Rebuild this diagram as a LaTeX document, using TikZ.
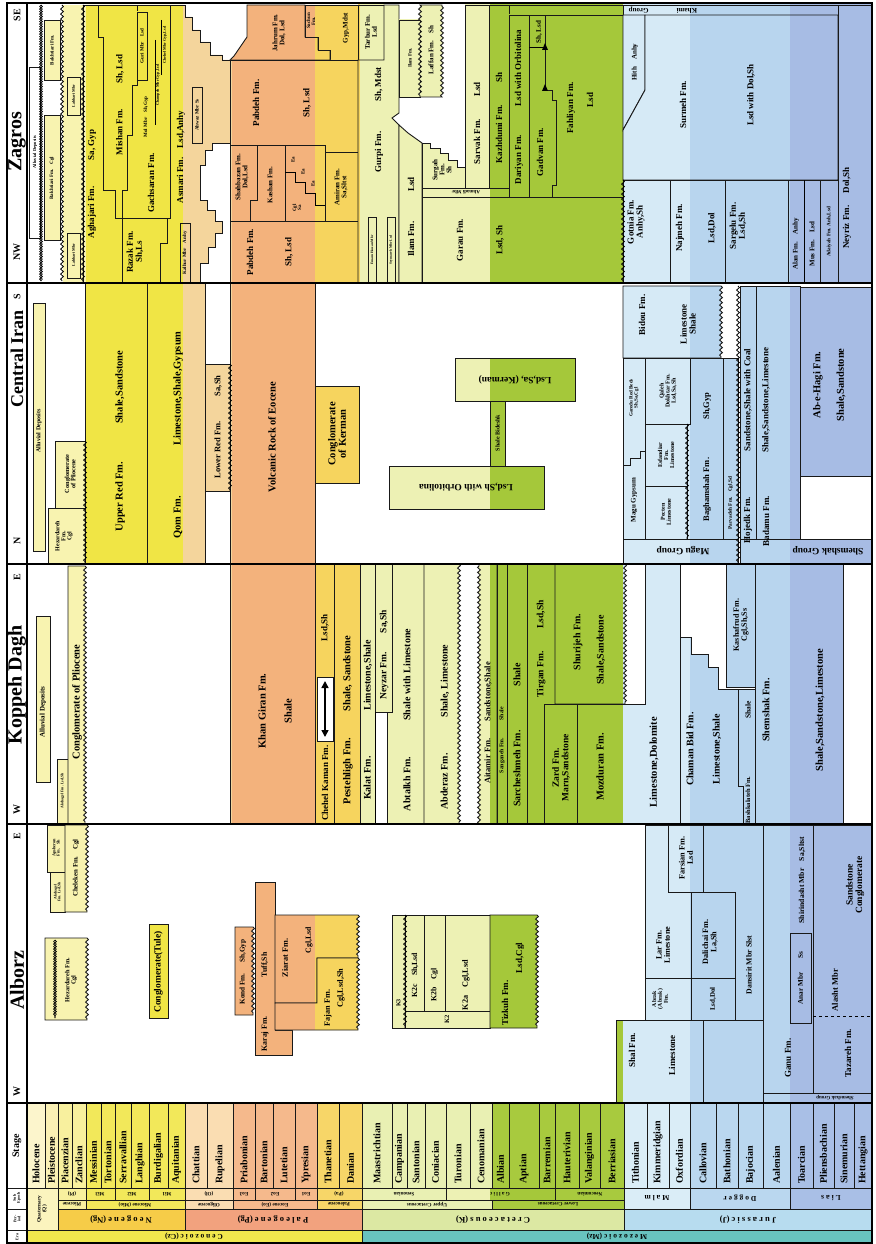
\documentclass[tikz,border=0pt]{standalone}
\usepackage{fontspec}
\setmainfont{Liberation Serif}
\usetikzlibrary{decorations.pathmorphing,arrows.meta}
\definecolor{bQ}{HTML}{F8F3B0}
\definecolor{bMio}{HTML}{F0E545}
\definecolor{bOl}{HTML}{F4D59C}
\definecolor{bEo}{HTML}{F3B27C}
\definecolor{bPa}{HTML}{F6D45E}
\definecolor{bUK}{HTML}{EDF1B4}
\definecolor{bLK}{HTML}{A5C83A}
\definecolor{bMalm}{HTML}{D6EAF6}
\definecolor{bDog}{HTML}{B8D5EE}
\definecolor{bLias}{HTML}{A7BCE4}
\definecolor{sHol}{HTML}{FCF5CC}
\definecolor{sPle}{HTML}{FAF0B4}
\definecolor{sPli}{HTML}{F8F09E}
\definecolor{sMio}{HTML}{F2E85A}
\definecolor{sOli}{HTML}{FADDB2}
\definecolor{sEoc}{HTML}{F5B98C}
\definecolor{sPal}{HTML}{F7D668}
\definecolor{sUK}{HTML}{E9F0B3}
\definecolor{sLK}{HTML}{A8CA3E}
\definecolor{sMalm}{HTML}{DAEDF7}
\definecolor{sDog}{HTML}{BAD7EF}
\definecolor{sLias}{HTML}{A9BFE6}
\definecolor{pQ}{HTML}{FBF4BE}
\definecolor{pNg}{HTML}{F6CC48}
\definecolor{pPg}{HTML}{F2A27E}
\definecolor{pK}{HTML}{DCE8A3}
\definecolor{pJ}{HTML}{B7DCEF}
\definecolor{eCz}{HTML}{F1E74D}
\definecolor{eMz}{HTML}{68C3BF}
\newcommand\fz[1]{\fontsize{#1}{#1}\selectfont\bfseries}
\newcommand\bands{%
 \fill[bQ] (0,0) rectangle (86,1244);
 \fill[bMio] (86,0) rectangle (183,1244);
 \fill[bOl] (183,0) rectangle (232,1244);
 \fill[bEo] (232,0) rectangle (315,1244);
 \fill[bPa] (315,0) rectangle (360,1244);
 \fill[bUK] (360,0) rectangle (490,1244);
 \fill[bLK] (490,0) rectangle (623,1244);
 \fill[bMalm] (623,0) rectangle (690,1244);
 \fill[bDog] (690,0) rectangle (790,1244);
 \fill[bLias] (790,0) rectangle (880,1244);}
\tikzset{
 fm/.style={draw=black!90, line width=0.9pt, path picture={\bands}},
 wbox/.style={draw=black!90, line width=0.9pt, fill=white},
 plbox/.style={draw=black!90, line width=0.9pt, fill=bQ},
 lab/.style={rotate=90, align=center, inner sep=0pt, font=\fz{10.5}},
 labz/.style={lab, font=\fz{9}},
 labs/.style={lab, font=\fz{7}},
 labt/.style={lab, font=\fz{5}},
 labr/.style={rotate=180, align=center, inner sep=0pt, font=\fz{9.5}},
 ep/.style={rotate=180, inner sep=0pt, font=\fz{5.2}},
 hdr/.style={rotate=90, inner sep=0pt, font=\fz{20}},
 dirl/.style={rotate=90, inner sep=0pt, font=\fz{10}},
 wavy/.style={draw, line width=0.8pt, decorate},
 chain/.style={draw, line width=0.6pt, decorate, decoration={snake,amplitude=1.4pt,segment length=5pt,mirror}},
 stg/.style={rotate=90, anchor=west, inner sep=0pt, font=\fz{10}},
 cell/.style={draw=black!90, line width=0.7pt},
}
\begin{document}
\begin{tikzpicture}[x=1pt,y=-1pt,decoration={snake,amplitude=1.4pt,segment length=5pt}]
\useasboundingbox (0,0) rectangle (875,1244);
\fill[white] (0,0) rectangle (875,1244);

% ================= ZAGROS =================
\fill[bQ] (63,5) rectangle (83,283);
\path[wbox] (29,67) rectangle (40,238);
\path[plbox] (44,20) rectangle (60,80);
\path[plbox] (44,115) rectangle (60,240);
\path[plbox] (67,77) rectangle (80,115);
\path[plbox] (67,233) rectangle (80,278);
\draw[wavy] (41,5) -- (41,281);
\draw[chain] (41,5) -- (41,281);
\draw[wavy] (62,5) -- (62,281);
\path[fm] (83,5) -- (98,5) -- (98,37) -- (103,37) -- (103,190) -- (115,190) -- (115,218) -- (122,218) -- (122,283) -- (83,283) -- cycle;
\path[fm] (98,5) -- (137,5) -- (137,85) -- (132,85) -- (132,135) -- (127,135) -- (127,190) -- (122,190) -- (122,218) -- (115,218) -- (115,190) -- (103,190) -- (103,37) -- (98,37) -- cycle;
\path[fm] (137,5) -- (170,5) -- (170,218) -- (122,218) -- (122,190) -- (127,190) -- (127,135) -- (132,135) -- (132,85) -- (137,85) -- cycle;
\path[fm] (137,12) rectangle (147,80);
\draw[line width=0.5pt] (155,40) -- (155,125);
\draw[line width=0.5pt] (161,20) -- (161,75);
\path[fm] (122,218) -- (167,218) -- (167,243) -- (160,243) -- (160,283) -- (122,283) -- cycle;
\path[fm] (170,5) -- (185,5) -- (185,17) -- (192,17) -- (192,30) -- (200,30) -- (200,42) -- (210,42) -- (210,55) -- (222,55) -- (222,60) -- (230,60) -- (230,143) -- (212,143) -- (212,150) -- (205,150) -- (205,165) -- (200,165) -- (200,200) -- (207,200) -- (207,210) -- (215,210) -- (215,221) -- (222,221) -- (222,233) -- (215,233) -- (215,247) -- (208,247) -- (208,263) -- (200,263) -- (200,283) -- (160,283) -- (160,243) -- (167,243) -- (167,218) -- (170,218) -- cycle;
\path[fm] (180,223) rectangle (190,283);
\path[fm] (192,87) rectangle (202,143);
\path[fm] (247,5) -- (305,5) -- (305,37) -- (318,37) -- (318,50) -- (330,50) -- (330,60) -- (230,60) -- (234,56) -- (247,37) -- cycle;
\path[fm] (305,5) -- (358,5) -- (358,60) -- (330,60) -- (330,50) -- (318,50) -- (318,37) -- (305,37) -- cycle;
\path[fm] (230,60) -- (358,60) -- (358,152) -- (325,152) -- (325,145) -- (230,145) -- cycle;
\path[fm] (230,145) -- (257,145) -- (257,200) -- (250,200) -- (250,221) -- (230,221) -- cycle;
\path[fm] (257,145) -- (285,145) -- (285,221) -- (250,221) -- (250,200) -- (257,200) -- cycle;
\path[fm] (285,145) -- (325,145) -- (325,221) -- (285,221) -- cycle;
\draw[line width=0.6pt] (285,172) -- (295,172) -- (295,182) -- (305,182) -- (305,193) -- (315,193) -- (315,205) -- (325,205);
\path[fm] (325,152) -- (358,152) -- (358,221) -- (325,221) -- cycle;
\path[fm] (230,221) rectangle (358,283);
\path[fm] (358,5) rectangle (384,60);
\path[fm] (358,60) -- (384,60) -- (384,5) -- (399,5) -- (399,113) -- (392,118) -- (399,125) -- (399,283) -- (358,283) -- cycle;
\path[fm] (368,217) rectangle (376,283);
\path[fm] (387,217) rectangle (395,283);
\path[fm] (399,20) rectangle (420,97);
\path[fm] (420,5) decorate{-- (420,97)} -- (442,97) decorate{-- (442,5)} -- cycle;
\path[fm] (399,125) -- (408,133) -- (415,138) -- (422,143) -- (422,283) -- (399,283) -- cycle;
\path[fm] (422,143) -- (430,143) -- (430,148) -- (440,148) -- (440,153) -- (448,153) -- (448,160) -- (457,160) -- (457,167) -- (465,167) -- (465,188) -- (422,188) -- cycle;
\path[fm] (422,188) rectangle (509,197);
\path[fm] (465,5) -- (489,5) -- (489,188) -- (465,188) -- cycle;
\path[fm] (489,5) rectangle (509,188);
\path[fm] (509,5) rectangle (623,15);
\path[fm] (509,15) rectangle (529,197);
\path[fm] (529,15) -- (545,15) -- (545,90) -- (552,90) -- (552,100) -- (556,100) -- (556,185) -- (552,185) -- (552,197) -- (529,197) -- cycle;
\path[fm] (545,15) -- (623,15) -- (623,197) -- (552,197) -- (552,185) -- (556,185) -- (556,100) -- (552,100) -- (552,90) -- (545,90) -- cycle;
\draw[line width=0.6pt] (529,47) -- (545,47);
\fill (545,43) -- (548,50) -- (542,50) -- cycle;
\fill (545,84) -- (548,91) -- (542,91) -- cycle;
\path[fm] (422,197) rectangle (623,283);
\path[fm] (623,5) rectangle (838,15);
\path[fm] (623,15) -- (645,15) -- (645,90) -- (623,130) -- cycle;
\path[fm] (645,15) -- (838,15) -- (838,180) -- (623,180) -- (623,130) -- (645,90) -- cycle;
\path[fm] (838,5) rectangle (872,283);
\path[fm] (623,180) rectangle (670,283);
\path[fm] (670,180) rectangle (725,283);
\path[fm] (725,180) rectangle (788,283);
\path[fm] (788,180) rectangle (820,283);
\draw[line width=0.8pt] (804,180) -- (804,283);
\path[fm] (820,180) rectangle (838,283);
\draw[wavy] (83,5) -- (83,283);
\draw[wavy] (623,180) -- (623,283);

% ================= CENTRAL IRAN =================
\path[plbox] (33,303) rectangle (45,551);
\path[plbox] (48,508) rectangle (85,564);
\path[plbox] (55,441) rectangle (85,508);
\path[fm] (85,283) rectangle (147,564);
\path[fm] (147,283) rectangle (205,564);
\path[fm] (205,364) rectangle (230,491);
\path[fm] (230,283) rectangle (315,564);
\path[fm] (315,386) rectangle (359,483);
\path[fm] (455,358) rectangle (575,401);
\path[fm] (490,401) rectangle (505,466);
\path[fm] (389,466) rectangle (544,509);
\path[fm] (623,286) -- (721,286) decorate{-- (721,358)} -- (623,358) -- cycle;
\path[fm] (623,358) -- (645,358) -- (645,451) -- (640,451) -- (640,458) -- (630,458) -- (630,465) -- (623,465) -- cycle;
\path[fm] (623,465) -- (630,465) -- (630,458) -- (640,458) -- (640,451) -- (645,451) -- (645,539) -- (623,539) -- cycle;
\path[fm] (645,358) rectangle (690,424);
\path[fm] (645,424) rectangle (687,486);
\path[fm] (645,486) rectangle (687,539);
\path[fm] (687,424) -- (690,424) -- (690,358) -- (723,358) -- (723,539) -- (687,539) -- cycle;
\path[fm] (723,358) rectangle (738,539);
\path[fm] (740,286) rectangle (756,539);
\path[fm] (756,286) rectangle (800,539);
\path[fm] (800,287) rectangle (871,476);
\path[fm] (623,539) rectangle (738,564);
\path[fm] (740,539) rectangle (872,564);
\draw[wavy] (85,441) -- (85,564);
\draw[wavy] (230,364) -- (230,491);
\draw[wavy] (687,424) -- (687,539);
\draw[wavy] (738,286) -- (738,564);

% ================= KOPPEH DAGH =================
\path[plbox] (36,616) rectangle (50,782);
\path[plbox] (57,759) rectangle (68,824);
\path[plbox] (68,566) -- (85,566) decorate{-- (85,824)} -- (68,824) -- cycle;
\path[fm] (230,564) rectangle (315,824);
\path[fm] (315,564) rectangle (334,824);
\path[wbox] (317,677) rectangle (333,741);
\path[fm] (334,564) rectangle (360,824);
\path[fm] (360,564) rectangle (375,824);
\path[fm] (375,564) rectangle (392,712);
\draw[line width=0.9pt] (375,712) -- (375,824);
\path[fm] (392,564) -- (424,564) -- (424,824) -- (387,824) -- (387,712) -- (392,712) -- cycle;
\path[fm] (424,564) -- (459,564) decorate{-- (459,824)} -- (424,824) -- cycle;
\path[fm] (479,824) decorate{-- (479,564)} -- (497,564) -- (497,824) -- cycle;
\path[fm] (497,564) rectangle (507,824);
\path[fm] (507,564) rectangle (527,824);
\path[fm] (527,564) -- (555,564) -- (555,704) -- (544,704) -- (544,824) -- (527,824) -- cycle;
\path[fm] (555,564) -- (625,564) decorate{-- (625,704)} -- (555,704) -- cycle;
\path[fm] (544,704) rectangle (577,824);
\path[fm] (577,704) -- (645,704) -- (645,564) -- (680,564) -- (680,824) -- (577,824) -- cycle;
\path[fm] (680,637) -- (691,637) -- (691,654) -- (708,654) -- (708,667) -- (718,667) -- (718,689) -- (738,689) -- (738,786) -- (743,786) -- (743,824) -- (680,824) -- cycle;
\path[fm] (726,564) rectangle (755,687);
\path[fm] (738,689) -- (755,689) -- (755,824) -- (743,824) -- (743,786) -- (738,786) -- cycle;
\path[fm] (755,564) rectangle (843,824);
\coordinate (ckA) at (325,681);
\coordinate (ckB) at (325,737);
\draw[{Triangle[length=7pt,width=7pt]}-{Triangle[length=7pt,width=7pt]}, line width=1.5pt] (ckA) -- (ckB);

% ================= ALBORZ =================
\path[plbox] (47,825) rectangle (65,872);
\path[plbox] (50,872) rectangle (65,912);
\path[plbox] (65,825) -- (87,825) decorate{-- (87,912)} -- (65,912) -- cycle;
\path[plbox] (45,938) -- (87,938) decorate{-- (87,1020)} -- (45,1020) -- cycle;
\draw[chain] (55,940) -- (55,1018);
\draw[wavy] (55,940) -- (55,1018);
\path[fm] (149,924) rectangle (168,1018);
\path[fm] (255,882) -- (275,882) -- (275,1030) -- (292,1030) -- (292,1055) -- (255,1055) -- cycle;
\path[fm] (235,927) -- (253,927) decorate{-- (253,1015)} -- (235,1015) -- cycle;
\path[fm] (275,915) -- (358,915) decorate{-- (358,958)} -- (317,958) -- (317,1003) -- (275,1003) -- cycle;
\path[fm] (275,1003) -- (317,1003) -- (317,958) -- (358,958) decorate{-- (358,1030)} -- (275,1030) -- cycle;
\path[fm] (392,915) rectangle (405,1028);
\path[fm] (405,915) rectangle (424,1011);
\path[fm] (424,915) rectangle (445,1011);
\path[fm] (445,915) rectangle (490,1011);
\path[fm] (405,1011) rectangle (490,1028);
\draw[wavy] (405,915) -- (405,1028);
\path[fm] (490,915) -- (537,915) decorate{-- (537,1028)} -- (490,1028) -- cycle;
\path[fm] (645,825) -- (668,825) -- (668,892) -- (691,892) -- (691,978) -- (645,978) -- cycle;
\path[fm] (668,825) rectangle (703,892);
\path[fm] (691,892) rectangle (735,978);
\path[fm] (703,825) -- (763,825) -- (763,1020) -- (735,1020) -- (735,892) -- (703,892) -- cycle;
\path[fm] (645,978) rectangle (691,1020);
\path[fm] (691,978) rectangle (735,1020);
\path[fm] (616,1020) rectangle (703,1103);
\path[fm] (703,1020) rectangle (763,1103);
\path[fm] (763,825) rectangle (813,1093);
\path[fm] (790,933) rectangle (811,1023);
\path[fm] (813,825) rectangle (872,1093);
\draw[dashed, line width=0.8pt] (813,1016) -- (872,1016);
\path[fm] (763,1093) rectangle (872,1103);

% ================= STAGE CHART =================
\foreach \a/\b/\n/\c in {27/45/Holocene/sHol,45/58/Pleistocene/sPle,58/72/Piacenzian/sPli,72/86/Zanclian/sPli,86/101/Messinian/sMio,101/115/Tortonian/sMio,115/131/Serravallian/sMio,131/149/Langhian/sMio,149/168/Burdigalian/sMio,168/185/Aquitanian/sMio,185/207/Chattian/sOli,207/233/Rupelian/sOli,233/255/Priabonian/sEoc,255/273/Bartonian/sEoc,273/295/Lutetian/sEoc,295/317/Ypresian/sEoc,317/339/Thanetian/sPal,339/362/Danian/sPal,362/392/Maastrichtian/sUK,392/407/Campanian/sUK,407/425/Santonian/sUK,425/446/Coniacian/sUK,446/470/Turonian/sUK,470/492/Cenomanian/sUK,492/509/Albian/sLK,509/539/Aptian/sLK,539/555/Barremian/sLK,555/579/Hauterivian/sLK,579/600/Valanginian/sLK,600/624/Berriasian/sLK,624/647/Tithonian/sMalm,647/669/Kimmeridgian/sMalm,669/690/Oxfordian/sMalm,690/716/Callovian/sDog,716/738/Bathonian/sDog,738/763/Bajocian/sDog,763/790/Aalenian/sDog,790/813/Toarcian/sLias,813/834/Pliensbachian/sLias,834/854/Sinemurian/sLias,854/872/Hettangian/sLias}{
 \path[cell, fill=\c] (\a,1103) rectangle (\b,1188);
 \node[stg] (st\a) at ({(\a+\b)/2},1184) {\n};
}
\path[cell,fill=pQ] (27,1188) rectangle (58,1230);
\path[cell,fill=sPli] (58,1188) rectangle (86,1200);
\path[cell,fill=sPli] (58,1200) rectangle (86,1209);
\path[cell,fill=sMio] (86,1188) rectangle (115,1200);
\path[cell,fill=sMio] (115,1188) rectangle (149,1200);
\path[cell,fill=sMio] (149,1188) rectangle (185,1200);
\path[cell,fill=sMio] (86,1200) rectangle (185,1209);
\path[cell,fill=pNg] (58,1209) rectangle (185,1230);
\path[cell,fill=sOli] (185,1188) rectangle (233,1200);
\path[cell,fill=sOli] (185,1200) rectangle (233,1209);
\path[cell,fill=sEoc] (233,1188) rectangle (255,1200);
\path[cell,fill=sEoc] (255,1188) rectangle (295,1200);
\path[cell,fill=sEoc] (295,1188) rectangle (317,1200);
\path[cell,fill=sEoc] (233,1200) rectangle (317,1209);
\path[cell,fill=sPal] (317,1188) rectangle (362,1200);
\path[cell,fill=sPal] (317,1200) rectangle (362,1209);
\path[cell,fill=pPg] (185,1209) rectangle (362,1230);
\path[cell,fill=sUK] (362,1188) rectangle (446,1200);
\path[fm, line width=0.7pt] (446,1188) rectangle (555,1200);
\path[cell,fill=sLK] (555,1188) rectangle (624,1200);
\path[cell,fill=sUK] (362,1200) rectangle (492,1209);
\path[cell,fill=sLK] (492,1200) rectangle (624,1209);
\path[cell,fill=pK] (362,1209) rectangle (624,1230);
\path[cell,fill=sMalm] (624,1188) rectangle (690,1209);
\path[cell,fill=sDog] (690,1188) rectangle (790,1209);
\path[cell,fill=sLias] (790,1188) rectangle (872,1209);
\path[cell,fill=pJ] (624,1209) rectangle (872,1230);
\path[cell,fill=eCz] (27,1230) rectangle (362,1243);
\path[cell,fill=eMz] (362,1230) rectangle (872,1243);
\draw[cell] (7,1188) -- (27,1188);
\draw[cell] (7,1209) -- (27,1209);
\draw[cell] (7,1230) -- (27,1230);

% ================= FRAME =================
\draw[line width=1.5pt] (7,3) rectangle (872,1243);
\draw[line width=1.3pt] (27,3) -- (27,1243);
\foreach \yy in {283,564,824,1103} \draw[line width=1.5pt] (7,\yy) -- (872,\yy);

% ================= HEADERS =================
\node[hdr] (hZ) at (17,142) {Zagros};
\node[hdr, font=\fz{18}] (hC) at (17,359) {Central Iran};
\node[hdr] (hK) at (17,685) {Koppeh Dagh};
\node[hdr] (hA) at (17,980) {Alborz};
\node[dirl] (dSE) at (17,15) {SE};
\node[dirl] (dNW) at (17,252) {NW};
\node[dirl] (dS) at (17,297) {S};
\node[dirl] (dN) at (17,541) {N};
\node[dirl] (dE1) at (17,577) {E};
\node[dirl] (dW1) at (17,809) {W};
\node[dirl] (dE2) at (17,836) {E};
\node[dirl] (dW2) at (17,1091) {W};
\node[dirl, font=\fz{10}] (hSt) at (17,1146) {Stage};
\node[labt, font=\fz{4}] (hEp) at (17,1198) {Sub\\Epoch};
\node[labt, font=\fz{4}] (hPe) at (17,1219) {Per-\\iod};
\node[labt, font=\fz{4}] (hEr) at (17,1237) {Era};

% ================= ZAGROS LABELS =================
\node[labt, font=\fz{4.5}] (zAl) at (35,152) {Alluvial Deposits};
\node[labt] (zBk1) at (52,50) {Bakhtiari Fm.};
\node[labt] (zBk2) at (52,178) {Bakhtiari Fm.\quad Cgl};
\node[labt, font=\fz{4}] (zLb1) at (73.5,96) {Lahbari Mbr};
\node[labt, font=\fz{4}] (zLb2) at (73.5,255) {Lahbari Mbr};
\node[labz] (zAg) at (92,184) {Aghajari Fm.\hspace{2.9em}Sa, Gyp};
\node[labz] (zMi) at (120,105) {Mishan Fm.\hspace{2.8em}Sh, Lsd};
\node[labz] (zGa) at (151,183) {Gachsaran Fm.};
\node[labt] (zMol) at (146,117) {Mol Mbr\quad Sh,Gyp};
\node[labt, font=\fz{4}] (zCh1) at (158,85) {Champeh Mbr Gyp,Lsd};
\node[labt, font=\fz{4}] (zCh2) at (165,45) {Chehel Mbr Gyp,Lsd};
\node[labt] (zGu) at (142,46) {Guri Mbr\quad Lsd};
\node[labz] (zRa) at (135,252) {Razak Fm.\\Sh,Ls};
\node[labz] (zAs) at (181,157) {Asmari Fm.\hspace{1em}Lsd,Anhy};
\node[labt] (zKal) at (185,253) {Kalhur Mbr\quad Anhy};
\node[labt] (zAhw) at (197,115) {Ahwaz Mbr Ss};
\node[labs] (zJa) at (279,33) {Jahrum Fm.\\Dol, Lsd};
\node[labt] (zSa) at (311,21) {Sachun\\Fm.};
\node[labs] (zGy) at (346,28) {Gyp,Mdst};
\node[labz] (zPa1) at (256,103) {Pabdeh Fm.};
\node[labz] (zPa2) at (307,103) {Sh, Lsd};
\node[labs] (zSh) at (242,177) {Shahbazan Fm.\\Dol,Lsd};
\node[labs] (zKa) at (270,185) {Kashan Fm.};
\node[labt] (zEa1) at (293,160) {Ea};
\node[labt] (zEa2) at (303,172) {Ea};
\node[labt] (zEa3) at (313,184) {Ea};
\node[labt] (zCg) at (297,208) {Cgl\\Sa};
\node[labs] (zAm) at (341,187) {Amiran Fm.\\Sa,Sltst};
\node[labz] (zPa3) at (250,252) {Pabdeh Fm.};
\node[labz] (zPa4) at (289,252) {Sh, Lsd};
\node[labs] (zTa) at (371,32) {Tarbur Fm.\\Lsd};
\node[labz] (zGp) at (379,120) {Gurpi Fm.\hspace{3.3em}Sh, Mdst};
\node[labt, font=\fz{3.5}] (zEm) at (372,250) {Emam Hassan Mbr};
\node[labt, font=\fz{3.5}] (zSe) at (391,250) {Seymareh Mbr Lsd};
\node[labt] (zIl1) at (410,58) {Ilam Fm.};
\node[labs] (zLa) at (431,50) {Laffan Fm.\quad Sh};
\node[labz] (zIl) at (411,217) {Ilam Fm.\hspace{3.3em}Lsd};
\node[labs] (zSu) at (442,170) {Surgah\\Fm.\\Sh};
\node[labr, font=\fz{5}] (zAh) at (466,192.5) {Ahmadi Mbr};
\node[labz] (zSv) at (477,123) {Sarvak Fm.\hspace{2.5em}Lsd};
\node[labz] (zKz) at (499,118) {Kazhdumi Fm.\hspace{2.5em}Sh};
\node[labz] (zDa) at (519,107) {Dariyan Fm.\hspace{3.2em}Lsd with Orbitolina};
\node[labz] (zGd) at (540,152) {Gadvan Fm.};
\node[labs] (zGdS) at (539,32) {Sh, Lsd};
\node[labz] (zFa1) at (571,108) {Fahliyan Fm.};
\node[labz] (zFa2) at (590,100) {Lsd};
\node[labz] (zGr1) at (460,240) {Garau Fm.};
\node[labz] (zGr2) at (500,240) {Lsd, Sh};
\node[labr, font=\fz{7}] (zKh) at (663,10) {Khami\hspace{4em}Group};
\node[labs] (zHi) at (635,62) {Hith\quad Anhy};
\node[labz] (zSm1) at (683,105) {Surmeh Fm.};
\node[labz] (zSm2) at (751,95) {Lsd with Dol,Sh};
\node[labz] (zNe) at (847,208) {Neyriz Fm.\hspace{1.4em}Dol,Sh};
\node[labz] (zGo) at (636,222) {Gotnia Fm.\\Anhy,Sh};
\node[labz] (zNj1) at (680,228) {Najmeh Fm.};
\node[labz] (zNj2) at (712,228) {Lsd,Dol};
\node[labz] (zSg) at (738,226) {Sargelu Fm.\\Lsd,Sh};
\node[labs] (zAl1) at (796,244) {Alan Fm.\quad Anhy};
\node[labs] (zMu) at (812,244) {Mus Fm.\quad Lsd};
\node[labt, font=\fz{5.2}] (zAd) at (829,232) {Adaiyah Fm. Anh,Lsd};

% ================= CENTRAL IRAN LABELS =================
\node[labs, font=\fz{6}] (cAl) at (39,431) {Alluvial Deposits};
\node[labs, font=\fz{6}] (cHz) at (64,536) {Hezardareh\\Fm.\\Cgl};
\node[labs, font=\fz{6.3}] (cCP) at (70,474) {Conglomerate\\of Pliocene};
\node[lab] (cUR) at (120,441) {Upper Red Fm.\hspace{3.6em}Shale,Sandstone};
\node[lab] (cQo) at (178,435) {Qom Fm.\hspace{4.8em}Limestone,Shale,Gypsum};
\node[lab, font=\fz{8.5}] (cLR) at (218,427) {Lower Red Fm.\hspace{3em}Sa,Sh};
\node[lab] (cVo) at (272,437) {Volcanic Rock of Eocene};
\node[lab] (cCK) at (337,434) {Conglomerate\\of Kerman};
\node[labr] (cKe) at (515,380) {Lsd,Sa, (Kerman)};
\node[labs, font=\fz{6}] (cBi) at (497.5,433) {Shale Bideshk};
\node[labr] (cOr) at (466,487) {Lsd,Sh with Orbitolina};
\node[lab, font=\fz{9}] (cBd1) at (642,315) {Bidou Fm.};
\node[lab, font=\fz{9}] (cBd2) at (688,324) {Limestone\\Shale};
\node[labt] (cGr) at (634,398) {Garedu Red Beds\\Sh,Sa,Cgl};
\node[labs, font=\fz{7}] (cMg) at (634,500) {Magu Gypsum};
\node[labs, font=\fz{6}] (cQD) at (668,391) {Qaleh\\Dokhtar Fm.\\Lsd,Sa,Sh};
\node[labs, font=\fz{6}] (cEs) at (666,455) {Esfandiar\\Fm.\\Limestone};
\node[labs, font=\fz{6}] (cPe) at (666,512) {Pecten\\Limestone};
\node[lab, font=\fz{8.5}] (cBg) at (707,457) {Baghamshah Fm.\hspace{4.5em}Sh,Gyp};
\node[labt, font=\fz{5.3}] (cPv) at (730.5,503) {Parvadeh Fm.\quad Cgl,Sd};
\node[lab, font=\fz{9}] (cHo1) at (748,520) {Hojedk Fm.};
\node[lab, font=\fz{9}] (cHo2) at (748,400) {Sandstone,Shale with Coal};
\node[lab, font=\fz{9}] (cBa1) at (766,521) {Badamu Fm.};
\node[lab, font=\fz{9}] (cBa2) at (766,400) {Shale,Sandstone,Limestone};
\node[lab] (cAH1) at (818,385) {Ab-e-Hagi Fm.};
\node[lab] (cAH2) at (841,385) {Shale,Sandstone};
\node[labr] (cMG) at (683,551) {Magu Group};
\node[labr] (cSG) at (828,551) {Shemshak Group};

% ================= KOPPEH DAGH LABELS =================
\node[labs, font=\fz{7}] (kAl) at (43,712) {Alluvial Deposits};
\node[labt, font=\fz{3.8}] (kAk) at (62.5,791) {Akchagyl Fm. Lsd,Sh};
\node[lab, font=\fz{10.5}] (kCP) at (77,702) {Conglomerate of Pliocene};
\node[lab] (kKG1) at (262,711) {Khan Giran Fm.};
\node[lab] (kKG2) at (288,711) {Shale};
\node[lab, font=\fz{9}] (kCK1) at (325,628) {Lsd,Sh};
\node[lab, font=\fz{9}] (kCK2) at (325,783) {Chehel Kaman Fm.};
\node[lab] (kPe) at (348,720) {Pestehligh Fm.\hspace{2.5em}Shale, Sandstone};
\node[lab, font=\fz{10}] (kKa) at (368,720) {Kalat Fm.\hspace{4.6em}Limestone,Shale};
\node[lab, font=\fz{9.5}] (kNe) at (384,655) {Neyzar Fm.\hspace{2em}Sa,Sh};
\node[lab, font=\fz{10}] (kAb) at (407,720) {Abtalkh Fm.\hspace{3.6em}Shale with Limestone};
\node[lab, font=\fz{10}] (kAd) at (445,727) {Abderaz Fm.\hspace{3.6em}Shale, Limestone};
\node[lab, font=\fz{8.5}] (kAi) at (488,723) {Aitamir Fm.\hspace{2em}Sandstone,Shale};
\node[labt, font=\fz{5.8}] (kSa) at (502,740) {Sanganeh Fm.\hspace{3em}Shale};
\node[lab, font=\fz{10}] (kSc) at (517,735) {Sarcheshmeh Fm.\hspace{4.4em}Shale};
\node[lab, font=\fz{9.5}] (kTi) at (541,649) {Tirgan Fm.\hspace{2.4em}Lsd,Sh};
\node[lab, font=\fz{10}] (kSu1) at (578,642) {Shurijeh Fm.};
\node[lab, font=\fz{10}] (kSu2) at (601,650) {Shale,Sandstone};
\node[lab, font=\fz{9.5}] (kZa) at (561,768) {Zard Fm.\\Marn,Sandstone};
\node[lab] (kMo1) at (600,767) {Mozduran Fm.};
\node[lab] (kMo2) at (654,762) {Limestone,Dolomite};
\node[lab, font=\fz{10}] (kCB1) at (690,749) {Chaman Bid Fm.};
\node[lab, font=\fz{10}] (kCB2) at (717,749) {Limestone,Shale};
\node[lab, font=\fz{8}] (kKf) at (741,625) {Kashafrud Fm.\\Cgl,Sh,Ss};
\node[lab, font=\fz{6.5}] (kBk1) at (748,800) {Bashkalateh Fm.};
\node[lab, font=\fz{7.5}] (kBk2) at (748,710) {Shale};
\node[lab, font=\fz{10}] (kSh1) at (766,710) {Shemshak Fm.};
\node[lab] (kSh2) at (820,710) {Shale,Sandstone,Limestone};

% ================= ALBORZ LABELS =================
\node[labt, font=\fz{4.3}] (aAp) at (56,848) {Apsheron\\Fm.\quad Sh};
\node[labt, font=\fz{3.8}] (aAk) at (57.5,892) {Akchagyl\\Fm. Lsd,Sh};
\node[labs, font=\fz{6.8}] (aCh) at (76,868) {Cheleken Fm.\quad Cgl};
\node[labs, font=\fz{6.3}] (aHz) at (71,980) {Hezardareh Fm.\\Cgl};
\node[lab, font=\fz{9.5}] (aCT) at (158.5,972) {Conglomerate(Tule)};
\node[lab, font=\fz{7.2}] (aKo) at (243,972) {Kond Fm.\hspace{1.5em}Sh,Gyp};
\node[lab, font=\fz{7.8}] (aKa) at (265,1002) {Karaj Fm.\hspace{5em}Tuff,Sh};
\node[lab, font=\fz{8.2}] (aZi1) at (285,958) {Ziarat Fm.};
\node[lab, font=\fz{7.8}] (aZi2) at (309,940) {Cgl,Lsd};
\node[lab, font=\fz{8.2}] (aFa1) at (328,1008) {Fajan Fm.};
\node[lab, font=\fz{8.2}] (aFa2) at (341,988) {Cgl,Lsd,Sh};
\node[labs, font=\fz{6}] (aK3) at (398.5,1003) {K3};
\node[lab, font=\fz{7.8}] (aK2c) at (415,975) {K2c\quad Sh,Lsd};
\node[lab, font=\fz{7.8}] (aK2b) at (434.5,985) {K2b\quad Cgl};
\node[lab, font=\fz{8.2}] (aK2a) at (466,985) {K2a\quad Cgl,Lsd};
\node[labs, font=\fz{6.5}] (aK2) at (447,1019.5) {K2};
\node[lab, font=\fz{9}] (aTi1) at (505,1003) {Tizkuh Fm.};
\node[lab, font=\fz{9}] (aTi2) at (520,958) {Lsd,Cgl};
\node[lab, font=\fz{8.2}] (aLa) at (663,945) {Lar Fm.\\Limestone};
\node[lab, font=\fz{8.2}] (aFs) at (686,858) {Farsian Fm.\\Lsd};
\node[lab, font=\fz{8.2}] (aDc) at (710,942) {Dalichai Fm.\\La,Sh};
\node[lab, font=\fz{7.8}] (aDs) at (749,965) {Dansirit Mbr Slst};
\node[labs, font=\fz{5.8}] (aAb) at (660,999) {Abrak\\(Abrak)\\Fm.};
\node[labs, font=\fz{7}] (aLD) at (713,999) {Lsd,Dol};
\node[lab, font=\fz{9}] (aSh1) at (632,1050) {Shal Fm.};
\node[lab, font=\fz{9}] (aSh2) at (672,1055) {Limestone};
\node[lab, font=\fz{7.6}] (aSi) at (802,880) {Shirindasht Mbr\quad Sa,Sltst};
\node[lab, font=\fz{7.2}] (aAn) at (800.5,978) {Anar Mbr\hspace{2em}Ss};
\node[lab, font=\fz{9}] (aGa) at (788,1058) {Ganu Fm.};
\node[lab, font=\fz{9.5}] (aSC) at (855,885) {Sandstone\\Conglomerate};
\node[lab, font=\fz{8.5}] (aAl) at (835,990) {Alasht Mbr};
\node[lab, font=\fz{9}] (aTz) at (848,1053) {Tazareh Fm.};
\node[labr, font=\fz{5}] (aSG) at (835,1098) {Shemshak Group};

% ================= EPOCH / PERIOD LABELS =================
\node[lab, font=\fz{5.3}] (eQ) at (42,1209) {Quaternary\\(Q)};
\node[ep] (ePl1) at (72,1194) {(Pl)};
\node[ep] (ePl2) at (72,1204.5) {Pliocene};
\node[ep] (eM3) at (100,1194) {Mi3};
\node[ep] (eM2) at (132,1194) {Mi2};
\node[ep] (eM1) at (167,1194) {Mi1};
\node[ep] (eMio) at (135,1204.5) {Miocene (Mio)};
\node[ep, font=\fz{8.5}] (eNg) at (121,1219.5) {N e o g e n e (Ng)};
\node[ep] (eOl1) at (209,1194) {(Ol)};
\node[ep] (eOl2) at (209,1204.5) {Oligocene};
\node[ep] (eE3) at (244,1194) {Eo3};
\node[ep] (eE2) at (275,1194) {Eo2};
\node[ep] (eE1) at (306,1194) {Eo1};
\node[ep] (eEo) at (275,1204.5) {Eocene (Eo)};
\node[ep] (ePa1) at (339,1194) {(Pa)};
\node[ep] (ePa2) at (339,1204.5) {Paleocene};
\node[ep, font=\fz{8.5}] (ePg) at (273,1219.5) {P a l e o g e n e (Pg)};
\node[ep] (eSe) at (404,1194) {Senonian};
\node[ep] (eGa) at (500,1194) {G a l l i c};
\node[ep] (eNe) at (590,1194) {Neocomian};
\node[ep] (eUK) at (427,1204.5) {Upper Cretaceous};
\node[ep] (eLK) at (558,1204.5) {Lower Cretaceous};
\node[ep, font=\fz{8.5}] (eK) at (493,1219.5) {C r e t a c e o u s (K)};
\node[ep, font=\fz{7.5}] (eMa) at (657,1198.5) {M a l m};
\node[ep, font=\fz{7.5}] (eDo) at (740,1198.5) {D o g g e r};
\node[ep, font=\fz{7.5}] (eLi) at (831,1198.5) {L i a s};
\node[ep, font=\fz{8.5}] (eJ) at (748,1219.5) {J u r a s s i c (J)};
\node[ep, font=\fz{7.5}] (eCz) at (194,1236.5) {C e n o z o i c (Cz)};
\node[ep, font=\fz{7.5}] (eMz) at (617,1236.5) {M e z o z o i c (Mz)};
\end{tikzpicture}
\end{document}
